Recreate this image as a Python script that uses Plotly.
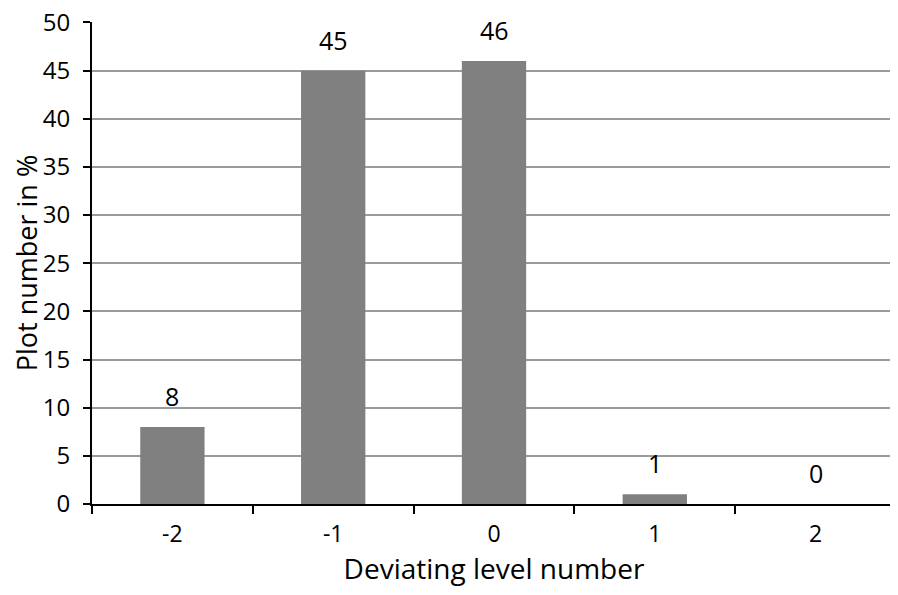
import plotly.graph_objects as go

levels = ["-2", "-1", "0", "1", "2"]
percent = [8, 45, 46, 1, 0]
y_ticks = [0, 5, 10, 15, 20, 25, 30, 35, 40, 45, 50]

FONT = "'Open Sans', sans-serif"

fig = go.Figure(
    go.Bar(
        x=levels,
        y=percent,
        width=0.4,
        marker=dict(color="#808080", line=dict(width=0)),
    )
)

# value labels sitting above each bar (category axis -> use index position)
for i, val in enumerate(percent):
    fig.add_annotation(
        x=i, y=val, text=str(val), showarrow=False,
        yanchor="middle", yshift=31,
        font=dict(size=25, color="black", family=FONT),
    )

fig.update_layout(
    width=898,
    height=595,
    plot_bgcolor="white",
    paper_bgcolor="white",
    margin=dict(l=84, r=10, t=14, b=99, autoexpand=False),
    showlegend=False,
    font=dict(family=FONT, color="black", size=23),
    xaxis=dict(
        type="category",
        tickson="boundaries",
        ticks="outside",
        ticklen=8,
        tickwidth=2,
        tickcolor="black",
        showline=True,
        linecolor="black",
        linewidth=2,
        showgrid=False,
        automargin=False,
        tickfont=dict(size=23),
        ticklabelstandoff=8,
        title=dict(text="Deviating level number", font=dict(size=28), standoff=12),
    ),
    yaxis=dict(
        range=[0, 50.05],
        tickvals=y_ticks,
        ticks="outside",
        ticklen=7,
        tickwidth=2,
        tickcolor="black",
        showline=True,
        linecolor="black",
        linewidth=2,
        showgrid=True,
        gridcolor="#9a9a9a",
        gridwidth=2,
        zeroline=False,
        automargin=False,
        ticklabeloverflow="allow",
        tickfont=dict(size=24),
        ticklabelstandoff=8,
        title=dict(text="Plot number in %", font=dict(size=27), standoff=16),
    ),
)

fig.write_html("out.html")
